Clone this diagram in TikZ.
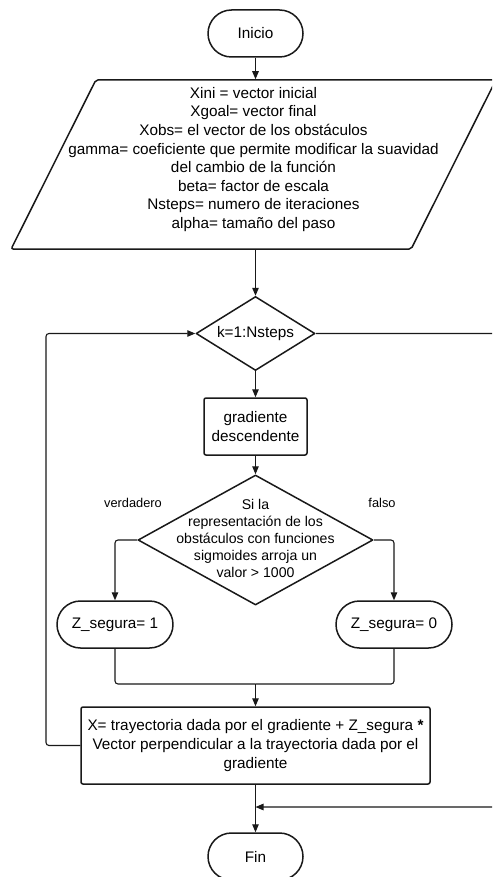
\documentclass[tikz,border=0pt]{standalone}
\usepackage{fontspec}
\setmainfont{Liberation Sans}
\usetikzlibrary{shapes.geometric,shapes.misc,arrows.meta}
\begin{document}
\begin{tikzpicture}[x=1pt,y=-1pt,
  outline/.style={draw=black!90, line width=1.5pt, line join=round},
  txt/.style={font=\fontsize{15.3}{18.6}\selectfont, align=center},
  terminal/.style={outline, txt, rounded rectangle, minimum width=95pt, minimum height=47pt, inner sep=0pt},
  process/.style={outline, txt, rectangle, rounded corners=2pt, inner sep=0pt},
  iobox/.style={outline, txt, trapezium, trapezium stretches=true, rounded corners=2pt, inner sep=0pt,
                trapezium left angle=75.4, trapezium right angle=104.6},
  decision/.style={outline, txt, diamond, inner sep=0pt, aspect=1.6},
  link/.style={draw=black!90, line width=1.1pt},
  arr/.style={link, -{Triangle[length=8pt,width=6.5pt]}},
  branch/.style={font=\fontsize{12.8}{15}\selectfont}
]
\useasboundingbox (0,0) rectangle (492,877);
\clip (0,0) rectangle (492,877);
\fill[white] (0,0) rectangle (492,877);

% ---- nodes ----
\node[terminal] (inicio) at (255.5,33.5) {Inicio};

\node[iobox, minimum width=485pt, minimum height=169pt,
      label={[txt, yshift=5pt]center:Xini = vector inicial\\
        Xgoal= vector final\\
        Xobs= el vector de los obstáculos\\
        gamma= coeficiente que permite modificar la suavidad\\
        del cambio de la función\\
        beta= factor de escala\\
        Nsteps= numero de iteraciones\\
        alpha= tamaño del paso}] (datos) at (253.5,164.5) {\phantom{X}};

\node[decision, minimum width=119pt, minimum height=74pt] (bucle) at (255.5,333.5) {k=1:Nsteps};

\node[process, minimum width=103pt, minimum height=57pt] (grad) at (255.5,426.5)
  {gradiente\\descendente};

\node[decision, minimum width=235pt, minimum height=130pt,
      label={[font=\fontsize{14.1}{17.2}\selectfont, align=center, yshift=1.5pt]center:Si la\\
        representación de los\\
        obstáculos con funciones\\
        sigmoides arroja un\\
        valor > 1000}] (cond) at (255.5,540) {};

\node[terminal, minimum width=116pt] (zuno) at (115,624.5) {Z\_segura= 1};
\node[terminal, minimum width=116pt] (zcero) at (394,624.5) {Z\_segura= 0};

\node[process, minimum width=349pt, minimum height=77pt] (xnew) at (255.5,745.5)
  {X= trayectoria dada por el gradiente + Z\_segura \textbf{*}\\
   Vector perpendicular a la trayectoria dada por el\\
   gradiente};

\node[terminal] (fin) at (255.5,856.5) {Fin};

\node[branch] (lverd) at (133,503) {verdadero};
\node[branch] (lfalso) at (382,503) {falso};

% ---- helper points for the loop connectors ----
\coordinate (une) at (255.5,684);
\coordinate (izq) at (46,0);
\coordinate (der) at (520,0);
\coordinate (salida) at (255.5,807);

% ---- connectors ----
\draw[arr] (inicio.south) -- (inicio.south |- datos.north);
\draw[arr] (bucle.north |- datos.south) -- (bucle.north);
\draw[arr] (bucle.south) -- (grad.north);
\draw[arr] (grad.south) -- (cond.north);
\draw[arr, rounded corners=3pt] (cond.west) -| (zuno.north);
\draw[arr, rounded corners=3pt] (cond.east) -| (zcero.north);
\draw[link, rounded corners=3pt] (zuno.south) |- (une);
\draw[link, rounded corners=3pt] (zcero.south) |- (une);
\draw[arr] (une) -- (xnew.north);
\draw[arr, rounded corners=3pt] (xnew.west) -- (xnew.west -| izq) |- (bucle.west);
\draw[arr] (xnew.south) -- (fin.north);
\draw[arr, rounded corners=3pt] (bucle.east) -- (bucle.east -| der) |- (salida);
\end{tikzpicture}
\end{document}
